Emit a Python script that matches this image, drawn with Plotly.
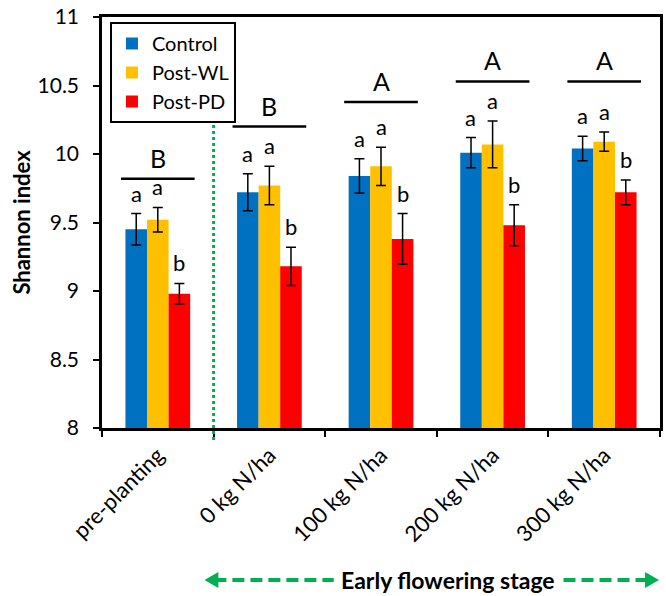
import plotly.graph_objects as go

categories = ["pre-planting", "0 kg N/ha", "100 kg N/ha", "200 kg N/ha", "300 kg N/ha"]
series_names = ["Control", "Post-WL", "Post-PD"]
control = [9.45, 9.72, 9.84, 10.01, 10.04]
control_err = [0.115, 0.135, 0.125, 0.11, 0.09]
post_wl = [9.52, 9.77, 9.91, 10.07, 10.09]
post_wl_err = [0.09, 0.14, 0.14, 0.17, 0.07]
post_pd = [8.98, 9.18, 9.38, 9.48, 9.72]
post_pd_err = [0.075, 0.14, 0.185, 0.15, 0.09]
small_letters = [["a", "a", "b"]] * 5
group_letters = ["B", "B", "A", "A", "A"]
group_line_y = [9.82, 10.2, 10.38, 10.53, 10.53]
y_ticks = [8, 8.5, 9, 9.5, 10, 10.5, 11]

colors = ["#0070C0", "#FFC000", "#FF0000"]
FONT = "Lato, 'Open Sans', sans-serif"

# plot-area pixel geometry
L, R, T, B = 102, 663, 17, 428
W, H = 666, 596


def px_x(p):
    return (p - L) / (R - L)


def px_y(p):
    return (B - p) / (B - T)


fig = go.Figure()
values = [control, post_wl, post_pd]
errs = [control_err, post_wl_err, post_pd_err]
for name, v, e, c in zip(series_names, values, errs, colors):
    fig.add_trace(go.Bar(
        name=name, x=categories, y=v, marker=dict(color=c, line=dict(width=0)),
        error_y=dict(type="data", array=e, color="black", thickness=1.5, width=5),
    ))

annotations = []
shapes = []
bar_px = (R - L) / len(categories) * 0.58 / 3
for ci, cat in enumerate(categories):
    for si in range(3):
        top = values[si][ci] + errs[si][ci]
        annotations.append(dict(
            x=cat, y=top, xref="x", yref="y", text=small_letters[ci][si],
            showarrow=False, yanchor="bottom", yshift=5, xshift=(si - 1) * bar_px,
            font=dict(family=FONT, size=22, color="black")))
    shapes.append(dict(type="line", xref="x", yref="y", x0=ci - 0.33, x1=ci + 0.33,
                       y0=group_line_y[ci], y1=group_line_y[ci],
                       line=dict(color="black", width=2.5)))
    annotations.append(dict(
        x=cat, y=group_line_y[ci], xref="x", yref="y", text=group_letters[ci],
        showarrow=False, yanchor="bottom", yshift=4,
        font=dict(family=FONT, size=25, color="black")))

# green dotted separator
shapes.append(dict(type="line", xref="x", yref="paper", x0=0.5, x1=0.5,
                   y0=px_y(440), y1=px_y(113),
                   line=dict(color="#00B050", width=3, dash="dot")))

# bottom double-headed dashed arrow
ay = px_y(580)
for x0, x1 in [(215, 335), (566, 652)]:
    shapes.append(dict(type="line", xref="paper", yref="paper", x0=px_x(x0), x1=px_x(x1),
                       y0=ay, y1=ay, line=dict(color="#00B050", width=4, dash="12px,6px")))
for tip, base in [(205, 219), (662, 648)]:
    path = "M {},{} L {},{} L {},{} Z".format(
        px_x(tip), ay, px_x(base), px_y(572), px_x(base), px_y(588))
    shapes.append(dict(type="path", xref="paper", yref="paper", path=path,
                       fillcolor="#00B050", line=dict(width=0)))
annotations.append(dict(
    x=px_x(450), y=ay, xref="paper", yref="paper", text="<b>Early flowering stage</b>",
    showarrow=False, yanchor="middle", xanchor="center",
    font=dict(family=FONT, size=23, color="black")))

fig.update_layout(
    width=W, height=H,
    margin=dict(l=L, r=W - R, t=T, b=H - B),
    paper_bgcolor="white", plot_bgcolor="white",
    barmode="group", bargap=0.42, bargroupgap=0,
    font=dict(family=FONT, size=21, color="black"),
    showlegend=True,
    legend=dict(x=px_x(110), y=px_y(22), xanchor="left", yanchor="top",
                bordercolor="black", borderwidth=2, bgcolor="white",
                font=dict(family=FONT, size=20), tracegroupgap=0, itemsizing="constant",
                itemwidth=30),
    shapes=shapes, annotations=annotations,
    xaxis=dict(type="category", tickson="boundaries", ticks="outside", ticklen=6,
               tickwidth=2, tickcolor="black", showline=True, linecolor="black",
               linewidth=2.5, mirror=True, tickangle=-45, showgrid=False,
               range=[-0.5, 4.5], ticklabelstandoff=3,
               tickfont=dict(family=FONT, size=22)),
    yaxis=dict(range=[8, 11], tickvals=y_ticks, ticktext=[str(t) for t in y_ticks],
               ticks="outside", ticklen=6, tickwidth=2, tickcolor="black",
               showline=True, linecolor="black", linewidth=2.5, mirror=True,
               showgrid=False, zeroline=False, ticklabelstandoff=10,
               tickfont=dict(family=FONT, size=21),
               title=dict(text="<b>Shannon index</b>", standoff=1,
                          font=dict(family=FONT, size=22))),
)

fig.write_html("out.html")
